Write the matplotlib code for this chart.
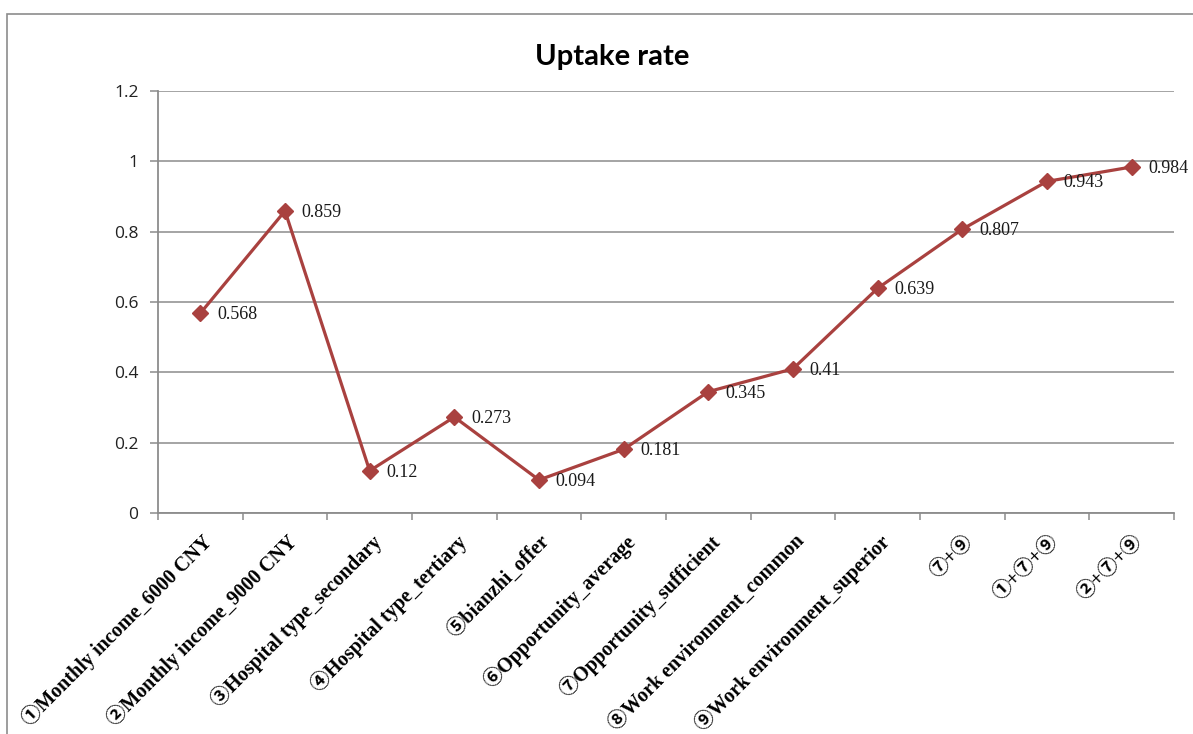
import matplotlib
matplotlib.use("Agg")
import matplotlib.pyplot as plt
import matplotlib.transforms as mtransforms
from matplotlib.patches import Rectangle

categories = [
    "①Monthly income_6000 CNY",
    "②Monthly income_9000 CNY",
    "③Hospital type_secondary",
    "④Hospital type_tertiary",
    "⑤bianzhi_offer",
    "⑥Opportunity_average",
    "⑦Opportunity_sufficient",
    "⑧Work environment_common",
    "⑨Work environment_superior",
    "⑦+⑨",
    "①+⑦+⑨",
    "②+⑦+⑨",
]
uptake = [0.568, 0.859, 0.12, 0.273, 0.094, 0.181, 0.345, 0.41, 0.639, 0.807, 0.943, 0.984]
value_labels = ["0.568", "0.859", "0.12", "0.273", "0.094", "0.181", "0.345", "0.41",
                "0.639", "0.807", "0.943", "0.984"]
yticks = [0, 0.2, 0.4, 0.6, 0.8, 1.0, 1.2]
ytick_labels = ["0", "0.2", "0.4", "0.6", "0.8", "1", "1.2"]

LINE_COLOR = "#A9413F"
GRID_COLOR = "#8C8C8C"
SERIF = ["Liberation Serif", "Noto Sans CJK SC"]

fig = plt.figure(figsize=(11.93, 7.34), dpi=100)
ax = fig.add_axes([158 / 1193, 1 - 513 / 734, (1174 - 158) / 1193, (513 - 91) / 734])

# chart-area border (only left and top edges fall inside the picture)
fig.patches.append(Rectangle((7 / 1193, -0.1), 1.2, 1 - 14 / 734 + 0.1,
                             transform=fig.transFigure, fill=False,
                             edgecolor="#8C8C8C", linewidth=1.2))

x = list(range(len(categories)))
ax.plot(x, uptake, color=LINE_COLOR, linewidth=2.3, marker="D", markersize=8.3,
        markerfacecolor=LINE_COLOR, markeredgecolor=LINE_COLOR, zorder=3, clip_on=False)

for xi, yi, lab in zip(x, uptake, value_labels):
    ax.annotate(lab, (xi, yi), xytext=(12, -1), textcoords="offset points",
                ha="left", va="center", fontsize=13, family=SERIF, color="#1a1a1a")

ax.set_xlim(-0.5, len(categories) - 0.5)
ax.set_ylim(0, 1.2)
ax.set_yticks(yticks)
ax.set_yticklabels(ytick_labels, fontsize=12.5, family="Open Sans", color="#222222")
ax.yaxis.grid(True, color=GRID_COLOR, linewidth=1.1)
ax.set_axisbelow(True)

ax.set_xticks(x)
ax.set_xticklabels(categories, rotation=45, ha="right", va="top", rotation_mode="anchor",
                   fontsize=14.5, fontweight="bold", family=SERIF)
ax.tick_params(axis="x", which="major", length=0, pad=13)
shift = mtransforms.ScaledTranslation(1 / 100, 0, fig.dpi_scale_trans)
for lbl in ax.get_xticklabels():
    lbl.set_transform(lbl.get_transform() + shift)
ax.set_xticks([i - 0.5 for i in range(len(categories) + 1)], minor=True)
ax.tick_params(axis="x", which="minor", length=5, width=1.1, color=GRID_COLOR, direction="out")
ax.tick_params(axis="y", length=6, width=1.1, color=GRID_COLOR, direction="out", pad=8)

for side in ("top", "right"):
    ax.spines[side].set_visible(False)
for side in ("left", "bottom"):
    ax.spines[side].set_color(GRID_COLOR)
    ax.spines[side].set_linewidth(1.3)

fig.text(612 / 1193, 1 - 57 / 734, "Uptake rate", ha="center", va="center",
         fontsize=21, fontweight="bold", family="Lato")

fig.savefig("out.png", dpi=100)
